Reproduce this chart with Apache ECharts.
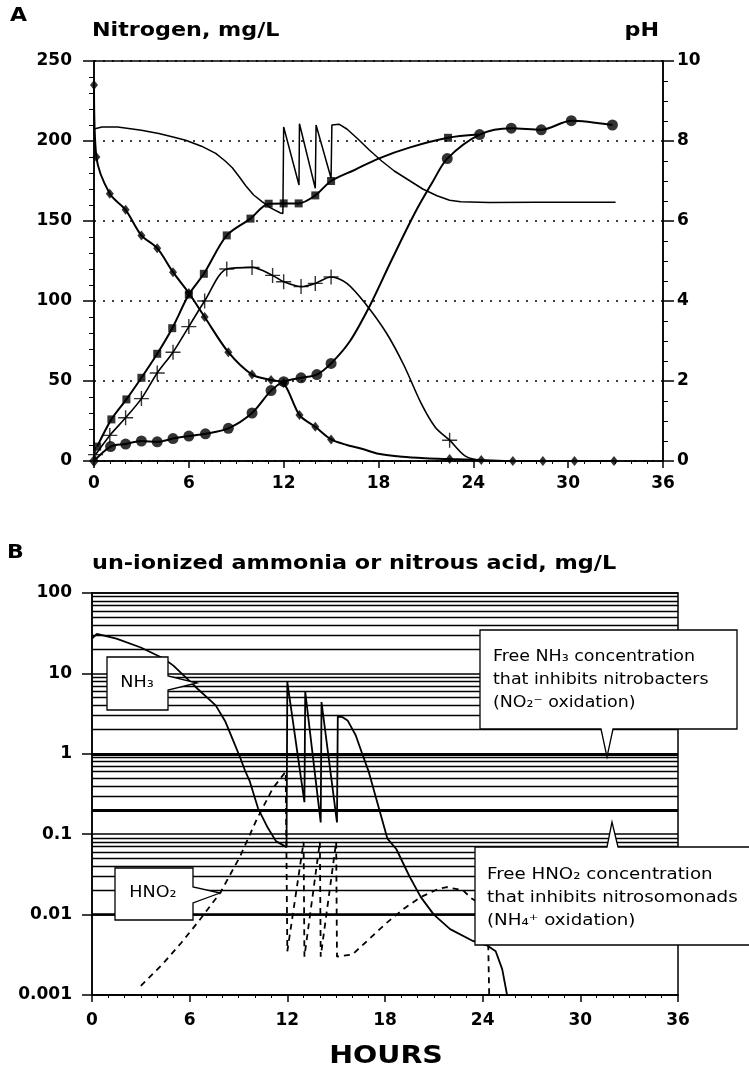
<!DOCTYPE html>
<html><head><meta charset="utf-8">
<script src="https://cdn.jsdelivr.net/npm/echarts@6/dist/echarts.min.js"></script>
<style>html,body{margin:0;padding:0;background:#fff}#c{width:749px;height:1087px}</style>
</head><body><div id="c"></div>
<script>
// ---------- Panel A data (hours, mg/L or pH) ----------
const hourTicks = [0, 6, 12, 18, 24, 30, 36];
const nitrogenTicks = [0, 50, 100, 150, 200, 250];
const phTicks = [0, 2, 4, 6, 8, 10];

// diamonds
const ammoniumMeasured = [[0,235],[0.15,190],[1,167],[2,157],[3,141],[4,133],[5,118],[6,105],[7,90],[8.5,68],[10,54],[11.2,50.6],[12,48.7],[13,28.7],[14,21.4],[15,13.5],[22.5,1.2],[24.5,0.6],[26.5,0],[28.4,0],[30.4,0],[32.9,0]];
const ammoniumCurve = [[16,10],[17,7.5],[18,4.5],[19.5,2.6],[21,1.7]];
const originMarker = [[0,0]];
// squares
const totalMeasured = [[0.2,9],[1.1,26],[2.05,38.5],[3,52],[4,67],[4.95,83],[6,104],[6.95,117],[8.4,141],[9.9,151.5],[11.05,160.8],[12,161],[12.95,161],[14,166],[15,175],[22.4,202]];
const totalCurve = [[16.5,182],[18,189],[20,196],[24.3,204]];
// plus signs
const nitriteMeasured = [[0.1,4],[1,16],[2,27],[3,39],[4,55],[5,68],[6,84],[7,100],[8.4,120],[10,121],[11.3,116],[12,112],[13.1,109],[14,111],[15,115],[22.5,13]];
const nitriteCurve = [[16,111],[17.2,98],[18.5,80],[19.6,60],[20.7,36],[21.6,21],[23.5,3],[24.5,0.3],[25.5,0]];
// circles
const nitrateMeasured = [[1.05,9],[2,10.6],[3,12.5],[4,12],[5,14],[6,15.6],[7.05,17],[8.5,20.4],[10,30],[11.2,44],[12,49.6],[13.1,52],[14.1,54],[15,61],[22.35,189],[24.4,204],[26.4,208],[28.3,207],[30.2,212.7],[32.8,210]];
const nitrateCurve = [[0,0],[16.2,75],[17.5,98],[18.8,125],[20.3,155],[21.4,174]];
// pH (right axis)
const phCurve = [[0,8.3],[0.5,8.35],[1.5,8.35],[3,8.27],[4.1,8.19],[5,8.1],[5.8,8.02],[6.8,7.87],[7.7,7.69],[8.3,7.5],[8.75,7.33],[9.2,7.1],[9.6,6.88],[10.1,6.65],[10.65,6.48],[11.2,6.32],[11.8,6.2],[11.95,6.19],[12.0,8.35],[12.97,6.9],[13.0,8.43],[14.0,6.82],[14.05,8.4],[15.0,7.07],[15.05,8.4],[15.5,8.42],[16,8.3],[16.7,8.05],[17.4,7.78],[18.2,7.5],[19,7.25],[20,7.0],[20.8,6.8],[21.7,6.63],[22.5,6.52],[23.2,6.48],[25,6.46],[28,6.47],[33,6.47]];

// ---------- Panel B data (hours, mg/L, log scale) ----------
const logTickLabels = ['0.001','0.01','0.1','1','10','100'];
const nh3Free = [[0,27],[0.3,31],[1.5,27],[3,21],[4.4,15.3],[5,12.5],[6,8],[6.5,6.4],[7.6,4.0],[8.2,2.5],[8.65,1.5],[9.1,0.9],[9.4,0.62],[9.7,0.45],[10.2,0.21],[10.8,0.12],[11.3,0.082],[11.95,0.069],[12,7.8],[13.05,0.25],[13.1,5.9],[14.05,0.14],[14.1,4.4],[15.05,0.14],[15.1,2.9],[15.4,2.85],[15.7,2.6],[16.2,1.7],[16.6,1.0],[17.0,0.6],[17.6,0.22],[18.15,0.088],[18.7,0.065],[19.5,0.03],[20.2,0.0165],[21,0.01],[22,0.0066],[23.4,0.0047],[24.3,0.0041],[24.8,0.0035],[25.2,0.0021],[25.5,0.001]];
const hno2Free = [[3,0.0013],[4.4,0.0025],[5.5,0.0045],[6.6,0.0085],[7.9,0.019],[9.1,0.053],[10.1,0.15],[11.1,0.37],[11.9,0.6],[12,0.0035],[13,0.08],[13.05,0.003],[14,0.08],[14.05,0.003],[15,0.08],[15.05,0.003],[16,0.0032],[16.8,0.0045],[18.1,0.0079],[19.2,0.012],[20.2,0.0165],[21.3,0.021],[21.8,0.022],[22.8,0.02],[23.3,0.016],[24.3,0.012],[24.4,0.001]];
const inhibitionLevels = [1, 0.2];
const logDecades = [0.001, 0.01, 0.1, 1, 10];
const logMultipliers = [2, 3, 4, 5, 6, 7, 8, 9];

// ---------- build ----------
const F = '"DejaVu Sans", "Liberation Sans", sans-serif';
const blk = '#000';
const tickLbl = {fontFamily: F, fontWeight: 'bold', fontSize: 17, color: blk};
function merge(a, b) { return a.concat(b).sort((p, q) => p[0] - q[0]); }

const minorGrid = [];
logDecades.forEach(d => logMultipliers.forEach(m => minorGrid.push({yAxis: +(d * m).toPrecision(3)})));

function xAx(gi, margin) {
  return {
    type: 'value', gridIndex: gi, min: 0, max: 36, interval: 6,
    axisLine: {show: true, lineStyle: {color: blk, width: 1.5}},
    axisTick: {show: true, length: 7, lineStyle: {color: blk, width: 1.5}},
    minorTick: {show: true, splitNumber: 6, length: 3, lineStyle: {color: blk, width: 1}},
    splitLine: {show: false},
    axisLabel: Object.assign({margin: margin, formatter: v => hourTicks.includes(v) ? String(v) : ''}, tickLbl)
  };
}

const lineBase = {type: 'line', xAxisIndex: 0, yAxisIndex: 0, showSymbol: false, smooth: 0.3, lineStyle: {color: blk, width: 2}, z: 3, silent: true};
const scatBase = {type: 'scatter', xAxisIndex: 0, yAxisIndex: 0, itemStyle: {color: blk}, z: 4, silent: true};
const plusPath = 'path://M6.8,0h1.4v6.8h6.8v1.4h-6.8v6.8h-1.4v-6.8h-6.8v-1.4h6.8z';

function label(x, y, text, font, sx, extra) {
  return Object.assign({type: 'text', x: x, y: y, scaleX: sx, style: Object.assign({text: text, font: font, fill: blk}, extra || {})}, {z: 101});
}

const option = {
  animation: false,
  backgroundColor: '#fff',
  grid: [
    {left: 94, right: 86, top: 61, height: 400, show: true, borderColor: blk, borderWidth: 1.5},
    {left: 92, right: 71, top: 593, height: 402, show: true, borderColor: blk, borderWidth: 1.5}
  ],
  xAxis: [xAx(0, 14), xAx(1, 17)],
  yAxis: [
    {type: 'value', gridIndex: 0, min: 0, max: 250, interval: 50,
     axisLine: {show: true, lineStyle: {color: blk, width: 1.5}},
     axisTick: {show: true, length: 11, lineStyle: {color: blk, width: 1.5}},
     minorTick: {show: true, splitNumber: 5, length: 5, lineStyle: {color: blk}},
     splitLine: {show: true, lineStyle: {color: blk, width: 1.6, type: [2, 7]}},
     axisLabel: Object.assign({margin: 22, formatter: v => nitrogenTicks.includes(v) ? String(v) : ''}, tickLbl)},
    {type: 'value', gridIndex: 0, position: 'right', min: 0, max: 10, interval: 2,
     axisLine: {show: true, lineStyle: {color: blk, width: 1.5}},
     axisTick: {show: true, length: 11, lineStyle: {color: blk, width: 1.5}},
     minorTick: {show: true, splitNumber: 4, length: 5, lineStyle: {color: blk}},
     splitLine: {show: false},
     axisLabel: Object.assign({margin: 14, formatter: v => phTicks.includes(v) ? String(v) : ''}, tickLbl)},
    {type: 'log', gridIndex: 1, logBase: 10, min: 0.001, max: 100,
     axisLine: {show: true, lineStyle: {color: blk, width: 1.5}},
     axisTick: {show: true, length: 10, lineStyle: {color: blk, width: 1.5}},
     splitLine: {show: true, lineStyle: {color: blk, width: 1.7}},
     axisLabel: Object.assign({margin: 20, formatter: v => logTickLabels[Math.round(Math.log10(v)) + 3] || ''}, tickLbl)}
  ],
  series: [
    Object.assign({}, lineBase, {data: merge(ammoniumMeasured, ammoniumCurve)}),
    Object.assign({}, scatBase, {data: ammoniumMeasured, symbol: 'diamond', symbolSize: [8, 10]}),
    Object.assign({}, scatBase, {data: originMarker, symbol: 'diamond', symbolSize: [10, 12]}),
    Object.assign({}, lineBase, {data: merge(totalMeasured, totalCurve)}),
    Object.assign({}, scatBase, {data: totalMeasured, symbol: 'rect', symbolSize: 8}),
    Object.assign({}, lineBase, {data: merge(nitriteMeasured, nitriteCurve), lineStyle: {color: blk, width: 1.6}}),
    Object.assign({}, scatBase, {data: nitriteMeasured, symbol: plusPath, symbolSize: 15}),
    Object.assign({}, lineBase, {data: merge(nitrateMeasured, nitrateCurve)}),
    Object.assign({}, scatBase, {data: nitrateMeasured, symbol: 'circle', symbolSize: 11}),
    {type: 'line', xAxisIndex: 0, yAxisIndex: 1, data: phCurve, showSymbol: false, smooth: false, lineStyle: {color: blk, width: 1.5}, z: 3, silent: true},
    // panel B grid lines
    {type: 'line', xAxisIndex: 1, yAxisIndex: 2, data: nh3Free, showSymbol: false, lineStyle: {opacity: 0}, z: 1, silent: true,
     markLine: {silent: true, symbol: 'none', label: {show: false}, animation: false,
       lineStyle: {color: blk, width: 1.3, type: 'solid'},
       data: minorGrid.concat(inhibitionLevels.map(v => ({yAxis: v, lineStyle: {width: 2.8, color: blk, type: 'solid'}})))}},
    {type: 'line', xAxisIndex: 1, yAxisIndex: 2, data: nh3Free, showSymbol: false, smooth: false, lineStyle: {color: blk, width: 1.8}, z: 3, silent: true},
    {type: 'line', xAxisIndex: 1, yAxisIndex: 2, data: hno2Free, showSymbol: false, smooth: false, lineStyle: {color: blk, width: 1.8, type: [6, 5]}, z: 3, silent: true}
  ],
  graphic: [
    label(10, 6, 'A', 'bold 20px ' + F, 1.1),
    label(92, 22, 'Nitrogen, mg/L', 'bold 19px ' + F, 1.17),
    label(659, 22, 'pH', 'bold 19px ' + F, 1.17, {textAlign: 'right'}),
    label(7, 543, 'B', 'bold 20px ' + F, 1.1),
    label(92, 555, 'un-ionized ammonia or nitrous acid, mg/L', 'bold 19px ' + F, 1.175),
    label(386, 1044, 'HOURS', 'bold 25px ' + F, 1.14, {textAlign: 'center'}),
    // NH3 label
    {type: 'polygon', z: 100, shape: {points: [[107,657],[168,657],[168,676],[197,683],[168,690],[168,710],[107,710]]}, style: {fill: '#fff', stroke: blk, lineWidth: 1.3}},
    label(137, 683, 'NH₃', '16px ' + F, 1.1, {textAlign: 'center', textVerticalAlign: 'middle'}),
    // HNO2 label
    {type: 'polygon', z: 100, shape: {points: [[115,868],[193,868],[193,887],[220,893],[193,903],[193,920],[115,920]]}, style: {fill: '#fff', stroke: blk, lineWidth: 1.3}},
    label(153, 893, 'HNO₂', '16px ' + F, 1.1, {textAlign: 'center', textVerticalAlign: 'middle'}),
    // callout NH3 inhibition
    {type: 'polygon', z: 100, shape: {points: [[480,630],[737,630],[737,729],[613,729],[607,757],[601,729],[480,729]]}, style: {fill: '#fff', stroke: blk, lineWidth: 1.3}},
    label(493, 645, 'Free NH₃ concentration\nthat inhibits nitrobacters\n(NO₂⁻ oxidation)', '16px ' + F, 1.09, {lineHeight: 23}),
    // callout HNO2 inhibition
    {type: 'polygon', z: 100, shape: {points: [[475,847],[607,847],[612,822],[618,847],[752,847],[752,945],[475,945]]}, style: {fill: '#fff', stroke: blk, lineWidth: 1.3}},
    label(487, 863, 'Free HNO₂ concentration\nthat inhibits nitrosomonads\n(NH₄⁺ oxidation)', '16px ' + F, 1.14, {lineHeight: 23})
  ]
};
const chart = echarts.init(document.getElementById('c'));
chart.setOption(option);
</script></body></html>
